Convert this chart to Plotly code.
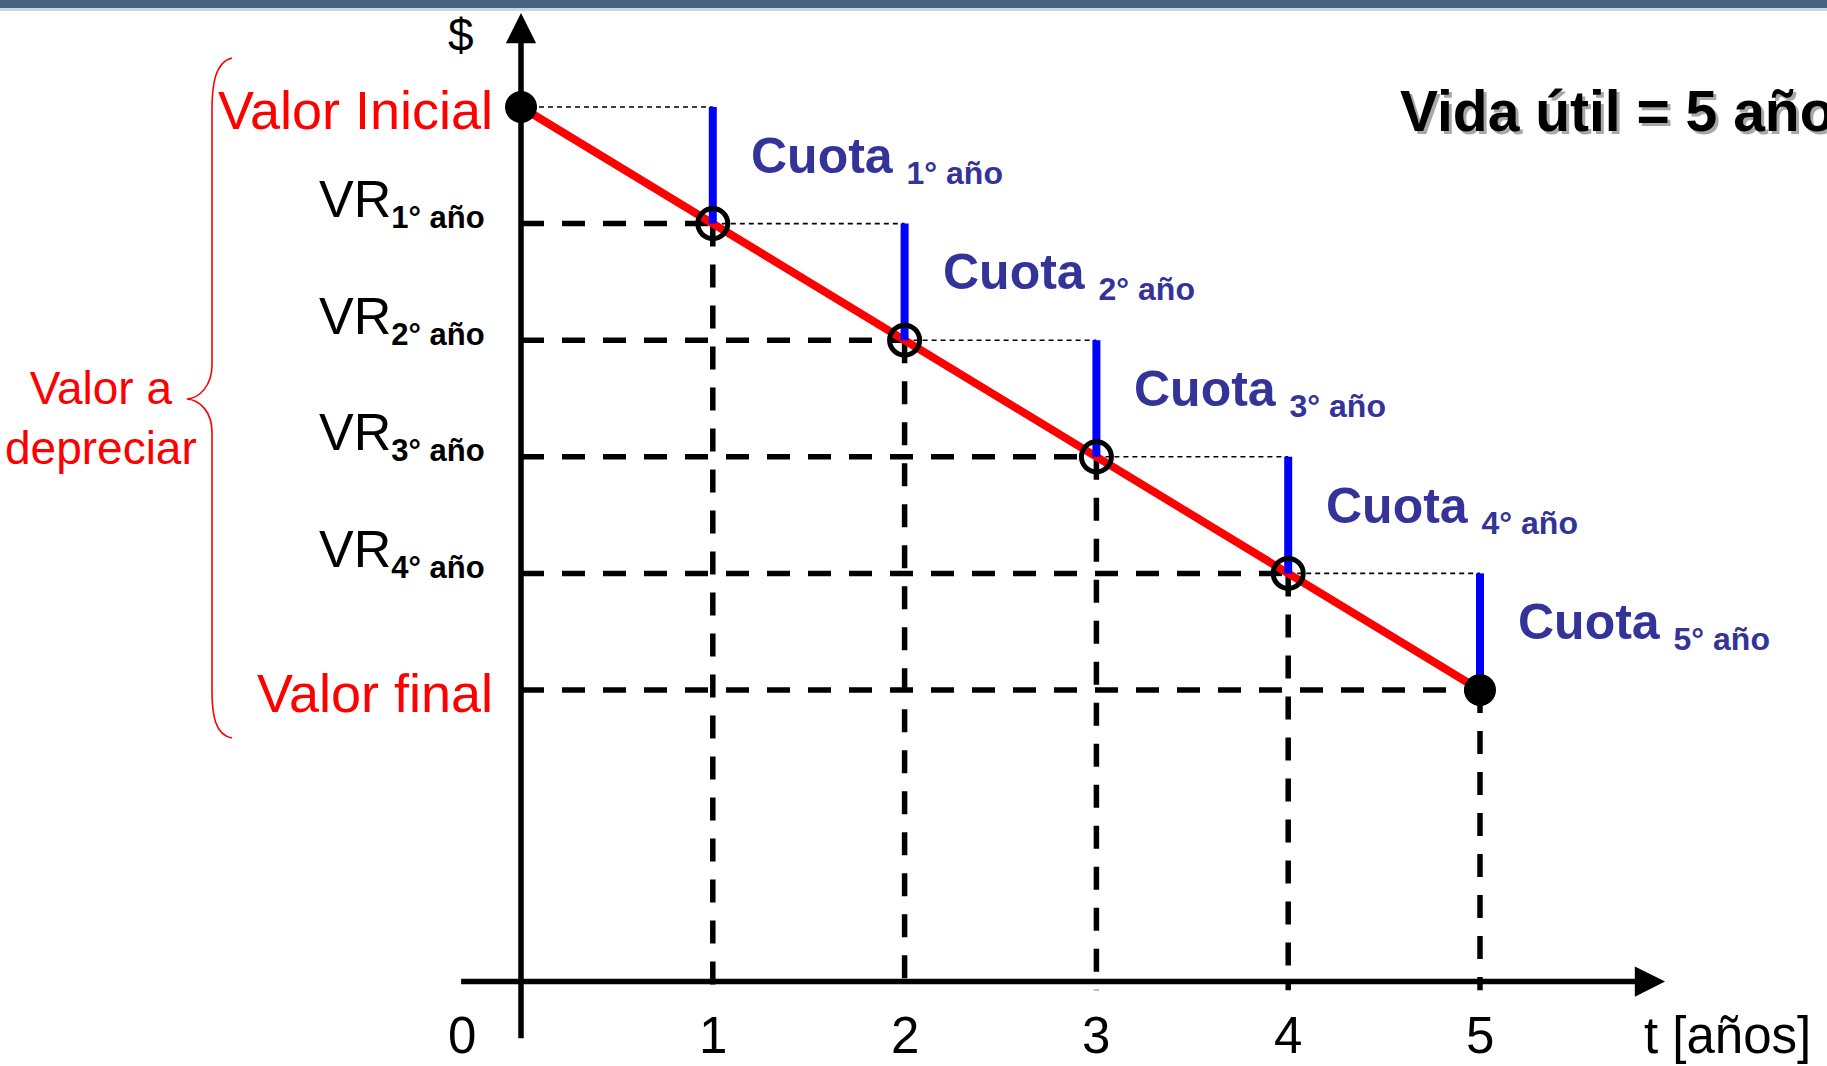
import plotly.graph_objects as go

# ---------------- data ----------------
years = [0, 1, 2, 3, 4, 5]
values = [150, 130, 110, 90, 70, 50]          # valor residual ($)
x_tick_labels = ["0", "1", "2", "3", "4", "5"]
x_axis_title = "t [años]"
y_axis_title = "$"
level_names = ["Valor Inicial", "VR", "VR", "VR", "VR", "Valor final"]
level_subs = ["", "1° año", "2° año", "3° año", "4° año", ""]
level_colors = ["#FF0000", "#000000", "#000000", "#000000", "#000000", "#FF0000"]
cuota_subs = ["1° año", "2° año", "3° año", "4° año", "5° año"]
bracket_label = "Valor a<br>depreciar"
title_text = "Vida útil = 5 años"

# ---------------- style ----------------
FONT = "Liberation Sans"
W, H = 1827, 1066
X_RANGE = [-2.7164, 6.8092]
Y_RANGE = [-14.49, 168.35]
PX_X = W / (X_RANGE[1] - X_RANGE[0])
PX_Y = H / (Y_RANGE[1] - Y_RANGE[0])

fig = go.Figure()

# horizontal dashed guides (from the $ axis to each point)
hx, hy = [], []
for i in range(1, len(years)):
    hx += [0, years[i], None]
    hy += [values[i], values[i], None]
fig.add_trace(go.Scatter(x=hx, y=hy, mode="lines",
                         line=dict(color="black", width=5.5, dash="23px,18px"),
                         hoverinfo="skip"))

# vertical dashed guides (from each point down to the t axis)
vx, vy = [], []
for i in range(1, len(years)):
    vx += [years[i], years[i], None]
    vy += [values[i], -1.5, None]
fig.add_trace(go.Scatter(x=vx, y=vy, mode="lines",
                         line=dict(color="black", width=5.5, dash="23px,18px"),
                         hoverinfo="skip"))

# thin dotted lines (previous value carried to next year)
dx, dy = [], []
for i in range(len(years) - 1):
    dx += [years[i], years[i + 1], None]
    dy += [values[i], values[i], None]
fig.add_trace(go.Scatter(x=dx, y=dy, mode="lines",
                         line=dict(color="black", width=1.6, dash="5px,4px"),
                         hoverinfo="skip"))

# red depreciation line
fig.add_trace(go.Scatter(x=years, y=values, mode="lines",
                         line=dict(color="#FF0000", width=8), hoverinfo="skip"))

# blue cuota segments
bx, by = [], []
for i in range(len(years) - 1):
    bx += [years[i + 1], years[i + 1], None]
    by += [values[i], values[i + 1], None]
fig.add_trace(go.Scatter(x=bx, y=by, mode="lines",
                         line=dict(color="#0000FF", width=8), hoverinfo="skip"))

# markers
fig.add_trace(go.Scatter(x=years[1:-1], y=values[1:-1], mode="markers",
                         marker=dict(symbol="circle-open", size=30, color="black",
                                     line=dict(width=5, color="black")),
                         hoverinfo="skip"))
fig.add_trace(go.Scatter(x=[years[0], years[-1]], y=[values[0], values[-1]],
                         mode="markers", marker=dict(size=32, color="black"),
                         hoverinfo="skip"))

ann = []

# axes arrows
x_axis_ext = [-0.32, 5.965]
y_axis_ext = [-10.0, 166.1]
ann.append(dict(x=x_axis_ext[1], y=0, ax=x_axis_ext[0], ay=0, axref="x", ayref="y",
                xref="x", yref="y", text="", showarrow=True, arrowhead=2,
                arrowsize=1.1, arrowwidth=5.5, arrowcolor="black"))
ann.append(dict(x=0, y=y_axis_ext[1], ax=0, ay=y_axis_ext[0], axref="x", ayref="y",
                xref="x", yref="y", text="", showarrow=True, arrowhead=2,
                arrowsize=1.1, arrowwidth=5.5, arrowcolor="black"))

# x tick labels
for i, lab in enumerate(x_tick_labels):
    ann.append(dict(x=years[i], y=0, xref="x", yref="y", text=lab, showarrow=False,
                    xanchor="center", yanchor="middle", yshift=-54,
                    xshift=(-59 if i == 0 else 0),
                    font=dict(family=FONT, size=51, color="black")))
ann.append(dict(x=years[-1], y=0, xref="x", yref="y", text=x_axis_title,
                showarrow=False, xanchor="left", yanchor="middle", yshift=-54,
                xshift=162, font=dict(family=FONT, size=51, color="black")))

# y axis title
ann.append(dict(x=0, y=y_axis_ext[1], xref="x", yref="y", text=y_axis_title,
                showarrow=False, xanchor="center", yanchor="middle",
                xshift=-60, yshift=-22,
                font=dict(family=FONT, size=46, color="black")))

# level labels on the $ axis
for i in range(len(years)):
    if level_subs[i]:
        txt = (f"{level_names[i]}<sub><span style='font-size:31px'><b>{level_subs[i]}</b>"
               f"</span></sub>")
        xs, ys, fs = -34, 21, 52
    else:
        txt = level_names[i]
        xs, ys, fs = -26, -3, 54
    ann.append(dict(x=0, y=values[i], xref="x", yref="y", text=txt, showarrow=False,
                    xanchor="right", yanchor="middle", xshift=xs, yshift=ys,
                    font=dict(family=FONT, size=fs, color=level_colors[i])))

# cuota labels
for i, s in enumerate(cuota_subs):
    ymid = (values[i] + values[i + 1]) / 2
    txt = f"<b>Cuota</b> <sub><span style='font-size:32px'><b>{s}</b></span></sub>"
    ann.append(dict(x=years[i + 1], y=ymid, xref="x", yref="y", text=txt,
                    showarrow=False, xanchor="left", yanchor="middle",
                    xshift=36, yshift=6,
                    font=dict(family=FONT, size=50, color="#333399")))

# bracket label
ann.append(dict(x=-2.19, y=(values[0] + values[-1]) / 2, xref="x", yref="y",
                text=bracket_label, showarrow=False, xanchor="center",
                yanchor="middle", yshift=-19,
                font=dict(family=FONT, size=46, color="#FF0000")))

# title with shadow
for col, sh in (("#A8A8A8", 3), ("#000000", 0)):
    ann.append(dict(x=4.575, y=values[0], xref="x", yref="y",
                    text=f"<b>{title_text}</b>", showarrow=False,
                    xanchor="left", yanchor="middle", xshift=sh, yshift=-4 - sh,
                    font=dict(family=FONT, size=57, color=col)))


# curly brace (decoration) in data coordinates, built from pixel offsets
def px2d(px, py):
    return X_RANGE[0] + px / PX_X, Y_RANGE[1] - py / PX_Y


pts = [(232, 58), (215, 62), (212, 85), (212, 110), (212, 365), (212, 385), (200, 398),
       (187, 399), (200, 400), (212, 412), (212, 432), (212, 690), (212, 715),
       (215, 735), (232, 738)]
d = [px2d(*p) for p in pts]
f = lambda p: f"{p[0]:.4f},{p[1]:.3f}"
path = (f"M{f(d[0])} C{f(d[1])} {f(d[2])} {f(d[3])} L{f(d[4])} "
        f"C{f(d[5])} {f(d[6])} {f(d[7])} C{f(d[8])} {f(d[9])} {f(d[10])} "
        f"L{f(d[11])} C{f(d[12])} {f(d[13])} {f(d[14])}")

shapes = [
    dict(type="path", path=path, xref="x", yref="y",
         line=dict(color="#FF0000", width=1.6)),
    dict(type="rect", xref="paper", yref="paper", x0=0, x1=1, y0=1 - 8 / H, y1=1,
         fillcolor="#476582", line=dict(width=0)),
    dict(type="rect", xref="paper", yref="paper", x0=0, x1=1, y0=1 - 11 / H,
         y1=1 - 8 / H, fillcolor="#C9D5E2", line=dict(width=0)),
]

fig.update_layout(
    width=W, height=H, margin=dict(l=0, r=0, t=0, b=0),
    paper_bgcolor="white", plot_bgcolor="white", showlegend=False,
    xaxis=dict(range=X_RANGE, visible=False, fixedrange=True),
    yaxis=dict(range=Y_RANGE, visible=False, fixedrange=True),
    annotations=ann, shapes=shapes,
)

fig.write_html("out.html", config={"displayModeBar": False},
               post_script="document.body.style.margin='0';document.body.style.overflow='hidden';")
